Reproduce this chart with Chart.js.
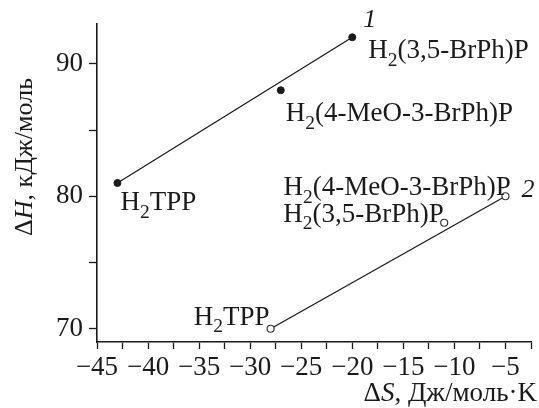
<!DOCTYPE html>
<html lang="ru">
<head>
<meta charset="UTF-8">
<title>ΔH – ΔS</title>
<script src="https://cdn.jsdelivr.net/npm/chart.js"></script>
<style>
  html, body { margin: 0; padding: 0; background: #fff; }
  #wrap { width: 539px; height: 408px; }
</style>
</head>
<body>
<div id="wrap"><canvas id="chart" width="539" height="408"></canvas></div>
<script>
// series 1 (filled dots)
const dS1 = [-43, -27, -20];
const dH1 = [81, 88, 92];
const names1 = ['H2TPP', 'H2(4-MeO-3-BrPh)P', 'H2(3,5-BrPh)P'];
// series 2 (open circles)
const dS2 = [-28, -11, -5];
const dH2 = [70, 78, 80];
const names2 = ['H2TPP', 'H2(3,5-BrPh)P', 'H2(4-MeO-3-BrPh)P'];
// straight lines through each series
const line1S = [-43, -20];
const line1H = [81, 92];
const line2S = [-28, -5];
const line2H = [70, 80];
// axes
const xTicks = [-45, -42.5, -40, -37.5, -35, -32.5, -30, -27.5, -25, -22.5, -20, -17.5, -15, -12.5, -10, -7.5, -5, -2.5];
const xLabeled = [-45, -40, -35, -30, -25, -20, -15, -10, -5];
const yTicks = [70, 75, 80, 85, 90];
const yLabeled = [70, 80, 90];

const FONT = 'Liberation Serif';
const SIZE = 27;
const INK = '#1a1a1a';

const pts = (xs, ys) => xs.map((x, i) => ({x: x, y: ys[i]}));

// text with H2 subscript and italic pieces
function runsOf(name) {
    if (name.startsWith('H2')) return [{t: 'H'}, {t: '2', sub: true}, {t: name.slice(2)}];
    return [{t: name}];
}

function fontFor(run, size) {
    const s = run.sub ? size * 0.72 : size;
    return (run.italic ? 'italic ' : '') + s + 'px "' + FONT + '"';
}

function drawRuns(ctx, runs, x, y, align, size) {
    let total = 0;
    runs.forEach(r => { ctx.font = fontFor(r, size); r.w = ctx.measureText(r.t).width; total += r.w; });
    let cx = x;
    if (align === 'right') cx = x - total;
    if (align === 'center') cx = x - total / 2;
    ctx.textAlign = 'left';
    ctx.textBaseline = 'alphabetic';
    runs.forEach(r => {
        ctx.font = fontFor(r, size);
        ctx.fillText(r.t, cx, r.sub ? y + size * 0.28 : y);
        cx += r.w;
    });
}

// label offsets from each point (px): dx, dy to baseline, align
const offs1 = [[3, 27, 'left'], [5, 31, 'left'], [16, 21, 'left']];
const offs2 = [[-1, -4, 'right'], [-161, -1, 'left'], [-222, -1, 'left']];

const labelPlugin = {
    id: 'labels',
    afterDraw(chart) {
        const ctx = chart.ctx;
        const xs = chart.scales.x, ys = chart.scales.y;
        ctx.save();
        ctx.fillStyle = INK;
        const put = (sArr, hArr, names, offs) => {
            names.forEach((n, i) => {
                const px = xs.getPixelForValue(sArr[i]);
                const py = ys.getPixelForValue(hArr[i]);
                drawRuns(ctx, runsOf(n), px + offs[i][0], py + offs[i][1], offs[i][2], SIZE);
            });
        };
        put(dS1, dH1, names1, offs1);
        put(dS2, dH2, names2, offs2);

        // curve numbers
        drawRuns(ctx, [{t: '1', italic: true}], xs.getPixelForValue(dS1[2]) + 11, ys.getPixelForValue(dH1[2]) - 10, 'left', 26);
        drawRuns(ctx, [{t: '2', italic: true}], xs.getPixelForValue(dS2[2]) + 16, ys.getPixelForValue(dH2[2]) + 1, 'left', 26);

        // axis titles
        drawRuns(ctx, [{t: 'Δ'}, {t: 'S', italic: true}, {t: ', Дж/моль·K'}], 537, 401, 'right', 27);
        ctx.translate(32, 157);
        ctx.rotate(-Math.PI / 2);
        drawRuns(ctx, [{t: 'Δ'}, {t: 'H', italic: true}, {t: ', кДж/моль'}], 0, 0, 'center', 26);
        ctx.restore();
    }
};

const tickFont = {family: FONT, size: SIZE};

new Chart(document.getElementById('chart').getContext('2d'), {
    type: 'scatter',
    data: {
        datasets: [
            {data: pts(dS1, dH1), pointRadius: 3.5, pointBackgroundColor: INK, pointBorderColor: INK, order: 0},
            {data: pts(dS2, dH2), pointRadius: 3.5, pointBackgroundColor: '#fff', pointBorderColor: '#333', pointBorderWidth: 1.2, order: 0},
            {data: pts(line1S, line1H), showLine: true, pointRadius: 0, borderColor: INK, borderWidth: 1.3, order: 1},
            {data: pts(line2S, line2H), showLine: true, pointRadius: 0, borderColor: INK, borderWidth: 1.3, order: 1}
        ]
    },
    options: {
        responsive: false,
        animation: false,
        layout: {padding: {left: 0, right: 8, top: 24, bottom: 0}},
        plugins: {legend: {display: false}, tooltip: {enabled: false}},
        scales: {
            x: {
                type: 'linear',
                min: -45,
                max: -2.5,
                afterBuildTicks: s => { s.ticks = xTicks.map(v => ({value: v})); },
                afterFit: s => { s.height = 66; },
                ticks: {
                    autoSkip: false,
                    maxRotation: 0,
                    padding: 3,
                    color: INK,
                    font: tickFont,
                    callback: v => xLabeled.includes(v) ? '\u2212' + Math.abs(v) : ''
                },
                grid: {drawOnChartArea: false, tickLength: 7, tickColor: INK, tickWidth: 1.3},
                border: {color: INK, width: 1.6}
            },
            y: {
                min: 69,
                max: 93,
                afterBuildTicks: s => { s.ticks = yTicks.map(v => ({value: v})); },
                afterFit: s => { s.width = 97; },
                ticks: {
                    autoSkip: false,
                    padding: 6,
                    color: INK,
                    font: tickFont,
                    callback: v => yLabeled.includes(v) ? String(v) : ''
                },
                grid: {drawOnChartArea: false, tickLength: 8, tickColor: INK, tickWidth: 1.3},
                border: {color: INK, width: 1.6}
            }
        }
    },
    plugins: [labelPlugin]
});
</script>
</body>
</html>
